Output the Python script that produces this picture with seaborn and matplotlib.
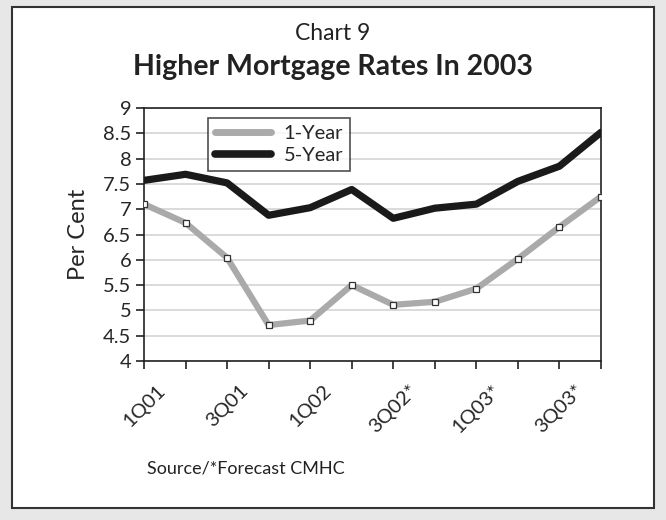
import numpy as np
import pandas as pd
import seaborn as sns
import matplotlib as mpl
import matplotlib.pyplot as plt
from matplotlib.lines import Line2D
from matplotlib.patches import Rectangle
from matplotlib.transforms import ScaledTranslation

quarters = ['1Q01', '2Q01', '3Q01', '4Q01', '1Q02', '2Q02',
            '3Q02*', '4Q02*', '1Q03*', '2Q03*', '3Q03*', '4Q03*']
one_year = [7.10, 6.73, 6.04, 4.71, 4.80, 5.50, 5.11, 5.17, 5.43, 6.02, 6.65, 7.25]
five_year = [7.57, 7.69, 7.52, 6.88, 7.03, 7.39, 6.82, 7.02, 7.10, 7.55, 7.85, 8.52]
shown_labels = ['1Q01', '3Q01', '1Q02', '3Q02*', '1Q03*', '3Q03*']
y_ticks = [4, 4.5, 5, 5.5, 6, 6.5, 7, 7.5, 8, 8.5, 9]

sns.set_theme(style="white")
plt.rcParams['font.family'] = ['Lato', 'DejaVu Sans']

df = pd.DataFrame({'pos': np.arange(len(quarters)), 'quarter': quarters,
                   'one': one_year, 'five': five_year})

fig = plt.figure(figsize=(6.66, 5.2), dpi=100)
fig.patch.set_facecolor('#e6e7e6')
# white panel with dark border
fig.patches.append(Rectangle((12 / 666, 12 / 520), 642 / 666, 501 / 520,
                             transform=fig.transFigure, facecolor='white',
                             edgecolor='#333333', linewidth=1.5, zorder=-5))

ax = fig.add_axes([144 / 666, 1 - 361 / 520, 457 / 666, 253 / 520])
ax.set_zorder(2)
ax.set_facecolor('white')

grey = '#aaaaaa'
sns.lineplot(data=df, x='pos', y='one', ax=ax, color=grey, linewidth=4.5,
             marker='s', markersize=3.8, markerfacecolor='white',
             markeredgecolor='#333333', markeredgewidth=0.9, zorder=3)
sns.lineplot(data=df, x='pos', y='five', ax=ax, color='#1a1a1a', linewidth=5.2,
             zorder=4)

ax.set_xlim(0, len(quarters) - 1)
ax.set_ylim(4, 9)
ax.set_yticks(y_ticks)
ax.set_yticklabels([f'{t:g}' for t in y_ticks], fontsize=14.5)
ax.set_xticks(df['pos'])
ax.set_xticklabels([q if q in shown_labels else '' for q in quarters],
                   rotation=45, ha='center', va='top', fontsize=14.5)
shift = ScaledTranslation(14 / 100, 0, fig.dpi_scale_trans)
for lab in ax.get_xticklabels():
    lab.set_transform(lab.get_transform() + shift)
ax.tick_params(axis='both', direction='out', length=6, width=1.2, color='#222222',
               bottom=True, left=True, pad=3)
ax.tick_params(axis='x', pad=9)
ax.yaxis.grid(True, color='#d4d4d4', linewidth=1.2)
ax.set_axisbelow(True)
for s in ax.spines.values():
    s.set_color('#222222')
    s.set_linewidth(1.2)

ax.set_xlabel('')
ax.set_ylabel('Per Cent', fontsize=17, labelpad=10)

handles = [Line2D([], [], color=grey, linewidth=5),
           Line2D([], [], color='#1a1a1a', linewidth=5.5)]
leg = ax.legend(handles, ['1-Year', '5-Year'], loc='upper left',
                bbox_to_anchor=(0.14, 0.96), borderaxespad=0, fontsize=14.5,
                frameon=True, fancybox=False, edgecolor='#222222',
                handlelength=2.8, borderpad=0.35, labelspacing=0.25,
                handletextpad=0.6)
leg.get_frame().set_linewidth(1.2)

fig.text(0.5, 1 - 33 / 520, 'Chart 9', ha='center', va='center', fontsize=16.5,
         color='#222222')
fig.text(0.5, 1 - 67 / 520, 'Higher Mortgage Rates In 2003', ha='center',
         va='center', fontsize=20.5, fontweight='bold', color='#222222')
fig.text(147 / 666, 1 - 468 / 520, 'Source/*Forecast CMHC', ha='left',
         va='center', fontsize=13, color='#222222')

plt.savefig('out.png', dpi=100, facecolor=fig.get_facecolor())
